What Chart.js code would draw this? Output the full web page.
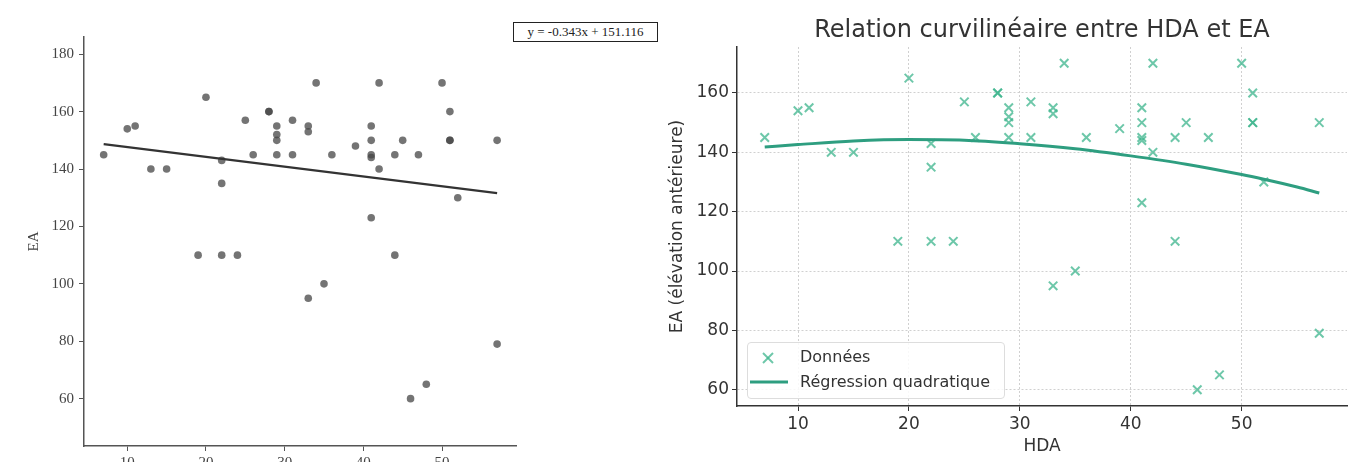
<!DOCTYPE html>
<html>
<head>
<meta charset="utf-8">
<script src="https://cdn.jsdelivr.net/npm/chart.js@4"></script>
<style>
  body { margin: 0; background: #fff; width: 1363px; height: 462px; overflow: hidden; position: relative; }
  #left { position: absolute; left: 0; top: 0; }
  #right { position: absolute; left: 640px; top: 0; }
  .eq {
    position: absolute; left: 513px; top: 22px; width: 143px; height: 18px;
    border: 1.5px solid #222; font: 13px "Liberation Serif", serif; color: #222;
    text-align: center; line-height: 18px; white-space: nowrap; background: #fff;
  }
  .title {
    position: absolute; left: 737px; width: 610px; top: 15px; text-align: center;
    font: 24px "DejaVu Sans", sans-serif; color: #333;
  }
  .legend {
    position: absolute; left: 747px; top: 342px; width: 256px; height: 55px;
    border: 1px solid #ddd; border-radius: 4px; background: rgba(255,255,255,0.85);
    font: 16px "DejaVu Sans", sans-serif; color: #333;
  }
  .legend .row { position: absolute; left: 0; height: 24px; line-height: 24px; }
  .legend .txt { position: absolute; left: 52px; white-space: nowrap; }
</style>
</head>
<body>
<canvas id="left" width="680" height="462"></canvas>
<canvas id="right" width="723" height="462"></canvas>
<div class="eq">y = -0.343x + 151.116</div>
<div class="title">Relation curvilinéaire entre HDA et EA</div>
<div class="legend">
  <div class="row" style="top:2px">
    <svg style="position:absolute;left:14px;top:7px" width="12" height="12">
      <line x1="1" y1="1" x2="11" y2="11" stroke="rgba(60,180,140,0.75)" stroke-width="2"/>
      <line x1="11" y1="1" x2="1" y2="11" stroke="rgba(60,180,140,0.75)" stroke-width="2"/>
    </svg>
    <span class="txt">Données</span>
  </div>
  <div class="row" style="top:27px">
    <svg style="position:absolute;left:2px;top:10px" width="38" height="4">
      <line x1="0" y1="2" x2="38" y2="2" stroke="#2e9e80" stroke-width="3"/>
    </svg>
    <span class="txt">Régression quadratique</span>
  </div>
</div>
<script>
// HDA / EA observations
const hda = [7, 10, 11, 13, 15, 19, 20, 22, 22, 22, 24, 25, 26, 28, 28, 29, 29, 29, 29, 31, 31, 33, 33, 33,
             34, 35, 36, 39, 41, 41, 41, 41, 41, 42, 42, 44, 44, 45, 46, 47, 48, 50, 51, 51, 51, 52, 57, 57];
const ea = [145, 154, 155, 140, 140, 110, 165, 143, 135, 110, 110, 157, 145, 160, 160, 155, 152, 150, 145, 157, 145, 155, 153, 95,
            170, 100, 145, 148, 155, 150, 145, 144, 123, 170, 140, 145, 110, 150, 60, 145, 65, 170, 160, 150, 150, 130, 150, 79];

// linear fit (left) and quadratic fit (right)
const linX = [7, 57];
const linY = [148.7, 131.6];
const quadX = [7, 10, 15, 20, 25, 30, 35, 40, 45, 50, 52, 55, 57];
const quadY = [141.8, 142.6, 143.8, 144.3, 144.1, 142.9, 141.2, 138.8, 136.0, 132.5, 130.9, 128.3, 126.3];

const xTicks = [10, 20, 30, 40, 50];
const yTicksLeft = [60, 80, 100, 120, 140, 160, 180];
const yTicksRight = [60, 80, 100, 120, 140, 160];

const pts = hda.map((x, i) => ({ x: x, y: ea[i] }));
const toXY = (xs, ys) => xs.map((x, i) => ({ x: x, y: ys[i] }));
const setTicks = vals => scale => { scale.ticks = vals.map(v => ({ value: v })); };

// left: seaborn style scatter + linear regression
new Chart(document.getElementById("left"), {
  type: "scatter",
  data: {
    datasets: [
      { data: toXY(linX, linY), showLine: true, pointRadius: 0, borderColor: "#333", borderWidth: 2.2, order: 0 },
      { data: pts, pointRadius: 3.8, backgroundColor: "rgba(70,70,70,0.75)", borderWidth: 0, order: 1 }
    ]
  },
  options: {
    responsive: false,
    animation: false,
    layout: { padding: { left: 0, right: 164, top: 37, bottom: 0 } },
    plugins: { legend: { display: false }, tooltip: { enabled: false } },
    scales: {
      x: {
        type: "linear", min: 4.5, max: 59.4,
        afterBuildTicks: setTicks(xTicks),
        afterFit: s => { s.height = 16; },
        grid: { drawOnChartArea: false, tickLength: 5, tickColor: "#555" },
        border: { color: "#555", width: 1.5 },
        ticks: { font: { family: "Liberation Serif", size: 15 }, color: "#444", padding: 3 }
      },
      y: {
        type: "linear", min: 43.5, max: 186,
        afterBuildTicks: setTicks(yTicksLeft),
        afterFit: s => { s.width = 84; },
        grid: { drawOnChartArea: false, tickLength: 5, tickColor: "#555" },
        border: { color: "#555", width: 1.5 },
        ticks: { font: { family: "Liberation Serif", size: 15 }, color: "#444", padding: 5 },
        title: { display: true, text: "EA", font: { family: "Liberation Serif", size: 15 }, color: "#444", padding: { top: 25 } }
      }
    }
  }
});

// right: matplotlib style with quadratic fit
new Chart(document.getElementById("right"), {
  type: "scatter",
  data: {
    datasets: [
      { label: "Régression quadratique", data: toXY(quadX, quadY), showLine: true, pointRadius: 0,
        borderColor: "#2e9e80", borderWidth: 3, cubicInterpolationMode: "monotone", order: 0 },
      { label: "Données", data: pts, pointStyle: "crossRot", pointRadius: 6,
        borderColor: "rgba(60,180,140,0.75)", borderWidth: 2, order: 1 }
    ]
  },
  options: {
    responsive: false,
    animation: false,
    layout: { padding: { left: 0, right: 16, top: 47, bottom: 0 } },
    plugins: { legend: { display: false }, tooltip: { enabled: false } },
    scales: {
      x: {
        type: "linear", min: 4.5, max: 59.5,
        afterBuildTicks: setTicks(xTicks),
        afterFit: s => { s.height = 56; },
        grid: { color: "#d0d0d0", tickLength: 5, tickColor: "#333" },
        border: { color: "#333", width: 1.5, dash: [2, 2] },
        ticks: { font: { family: "DejaVu Sans", size: 17 }, color: "#333", padding: 3 },
        title: { display: true, text: "HDA", font: { family: "DejaVu Sans", size: 17 }, color: "#333", padding: { bottom: 5 } }
      },
      y: {
        type: "linear", min: 54.5, max: 175.5,
        afterBuildTicks: setTicks(yTicksRight),
        afterFit: s => { s.width = 97; },
        grid: { color: "#d0d0d0", tickLength: 5, tickColor: "#333" },
        border: { color: "#333", width: 1.5, dash: [2, 2] },
        ticks: { font: { family: "DejaVu Sans", size: 17 }, color: "#333", padding: 3 },
        title: { display: true, text: "EA (élévation antérieure)", font: { family: "DejaVu Sans", size: 17 }, color: "#333", padding: { top: 27 } }
      }
    }
  }
});
</script>
</body>
</html>
